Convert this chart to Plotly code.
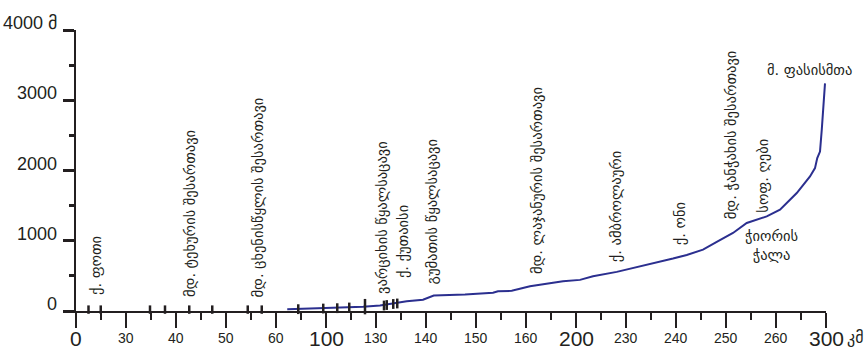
import plotly.graph_objects as go

# Longitudinal profile of the river: distance (km) and elevation (m)
profile_km = [84.5, 99.6, 114.8, 121.6, 128.3, 132.3, 138.8, 141.0, 143.1, 155.6,
              166.8, 168.8, 174.3, 181.6, 188.3, 194.8, 201.6, 206.8, 216.3, 224.3,
              233.6, 238.8, 244.3, 250.8, 256.3, 262.8, 268.3, 276.3, 281.6, 288.3,
              293.6, 295.6, 296.5, 297.6, 298.3, 298.9, 299.6]
profile_elev = [25, 38, 60, 78, 118, 140, 160, 190, 220, 234,
                259, 281, 287, 352, 386, 423, 443, 494, 557, 622,
                693, 746, 798, 874, 983, 1111, 1253, 1347, 1442, 1679,
                1915, 2034, 2176, 2270, 2578, 2909, 3241]

# Gauging / reference marks in the lower course and along the profile
axis_marks_km = [5.0, 9.9, 29.6, 35.6, 45.3, 54.5, 68.7, 74.3]
axis_marks_elev = [20, 20, 20, 20, 20, 20, 20, 20]
line_marks_km = [88.9, 98.9, 104.5, 109.3, 123.2, 124.3, 126.9, 128.5]
line_marks_elev = [26, 35, 40, 50, 78, 85, 100, 107]
dam_km = [115.6]
dam_elev = [62]

# Axis ticks
x_tickvals = [0, 20, 40, 60, 80, 100, 120, 140, 160, 180, 200, 220, 240, 260, 280, 300]
x_ticktext = ["0", "30", "40", "50", "60", "100", "130", "140", "150", "160",
              "200", "230", "240", "250", "260", "300"]
x_unit = "კმ"
y_tickvals = [0, 1000, 2000, 3000, 4000]
y_ticktext = ["0", "1000", "2000", "3000", "4000 მ"]

# Place names written upright along the river (start of text at given point)
vertical_names = ["ქ. ფოთი", "მდ. ტეხურის შესართავი", "მდ. ცხენისწყლის შესართავი",
                  "ვარციხის წყალსაცავი", "ქ. ქუთაისი", "გუმათის წყალსაცავი",
                  "მდ. ლაჯანურის შესართავი", "ქ. ამბროლაური", "ქ. ონი",
                  "მდ. ჭანჭახის შესართავი", "სოფ. ღები"]
vertical_km = [8.0, 45.6, 72.8, 122.4, 130.8, 142.4, 184.4, 216.0, 241.6, 262.0, 274.8]
vertical_elev = [192, 163, 163, 206, 433, 348, 490, 660, 902, 1271, 1371]

# Horizontal place names
horizontal_names = ["ჭიორის<br>ჭალა", "მ. ფასისმთა"]
horizontal_km = [278.0, 293.2]
horizontal_elev = [930, 3430]

INK = "#231f20"
NUM_FONT = "Liberation Sans, Arial, sans-serif"
GEO_FONT = "DejaVu Sans, sans-serif"

fig = go.Figure()

fig.add_trace(go.Scatter(
    x=profile_km, y=profile_elev, mode="lines",
    line=dict(color="#2b2f8f", width=2), hoverinfo="skip", showlegend=False,
))

mark_style = dict(symbol="line-ns", color=INK, line=dict(color=INK, width=2.5))
fig.add_trace(go.Scatter(
    x=axis_marks_km, y=axis_marks_elev, mode="markers", cliponaxis=False,
    marker=dict(size=6, **mark_style), hoverinfo="skip", showlegend=False,
))
fig.add_trace(go.Scatter(
    x=line_marks_km, y=line_marks_elev, mode="markers", cliponaxis=False,
    marker=dict(size=7, **mark_style), hoverinfo="skip", showlegend=False,
))
fig.add_trace(go.Scatter(
    x=dam_km, y=dam_elev, mode="markers", cliponaxis=False,
    marker=dict(size=11, **mark_style), hoverinfo="skip", showlegend=False,
))

annotations = []

# x-axis labels: hundreds are printed larger
for v, t in zip(x_tickvals, x_ticktext):
    big = t in ("0", "100", "200", "300")
    annotations.append(dict(
        x=v, xref="x", y=0, yref="paper", text=t, showarrow=False,
        xanchor="center", yanchor="middle", yshift=-27,
        font=dict(family=NUM_FONT, size=21 if big else 14, color=INK),
    ))
annotations.append(dict(
    x=x_tickvals[-1], xref="x", y=0, yref="paper", text=x_unit, showarrow=False,
    xanchor="left", yanchor="middle", xshift=19, yshift=-26,
    font=dict(family=GEO_FONT, size=16, color=INK),
))

# y-axis labels sit just above their ticks
for v, t in zip(y_tickvals, y_ticktext):
    annotations.append(dict(
        x=0, xref="paper", y=v, yref="y", text=t, showarrow=False,
        xanchor="right", yanchor="middle", xshift=-17, yshift=7,
        font=dict(family=NUM_FONT, size=18, color=INK),
    ))

for name, km, el in zip(vertical_names, vertical_km, vertical_elev):
    annotations.append(dict(
        x=km, y=el, xref="x", yref="y", text=name, showarrow=False,
        textangle=-90, xanchor="center", yanchor="bottom",
        font=dict(family=GEO_FONT, size=14.5, color=INK),
    ))

for name, km, el in zip(horizontal_names, horizontal_km, horizontal_elev):
    annotations.append(dict(
        x=km, y=el, xref="x", yref="y", text=name, showarrow=False,
        xanchor="center", yanchor="middle",
        font=dict(family=GEO_FONT, size=14.5, color=INK),
    ))

fig.update_layout(
    width=868, height=351,
    margin=dict(l=76, r=42, t=30, b=39.5, pad=0),
    paper_bgcolor="white", plot_bgcolor="white",
    showlegend=False,
    annotations=annotations,
    xaxis=dict(
        range=[0, 300], showgrid=False, zeroline=False,
        showline=True, linecolor=INK, linewidth=2,
        tickmode="array", tickvals=x_tickvals, showticklabels=False,
        ticks="outside", ticklen=15, tickwidth=2, tickcolor=INK,
        minor=dict(dtick=10, ticks="outside", ticklen=7, tickwidth=2, tickcolor=INK),
    ),
    yaxis=dict(
        range=[0, 4000], showgrid=False, zeroline=False,
        showline=True, linecolor=INK, linewidth=2,
        tickmode="array", tickvals=y_tickvals, showticklabels=False,
        ticks="outside", ticklen=11, tickwidth=3, tickcolor=INK,
        minor=dict(dtick=500, ticks="outside", ticklen=5, tickwidth=3, tickcolor=INK),
    ),
)

fig.write_html("out.html")
